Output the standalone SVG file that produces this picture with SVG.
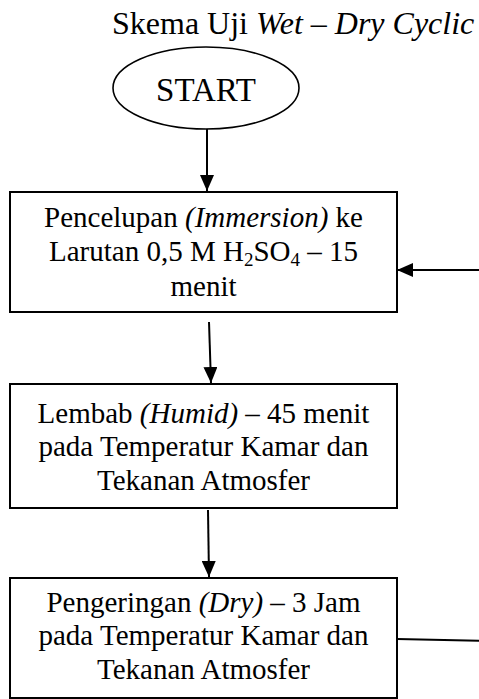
<svg xmlns="http://www.w3.org/2000/svg" width="479" height="699" viewBox="0 0 479 699">
<style>
  text { font-family: "Liberation Serif", "Times New Roman", serif; fill: #000; }
  .title { font-size: 32px; }
  .start { font-size: 33px; text-anchor: middle; }
  .lbl { font-size: 29px; text-anchor: middle; }
  .box { fill: #fff; stroke: #000; stroke-width: 2; }
  .oval { fill: #fff; stroke: #000; stroke-width: 1.6; }
  .conn { fill: none; stroke: #000; stroke-width: 2; }
  .it { font-style: italic; }
</style>
<defs>
  <marker id="arrow" markerUnits="userSpaceOnUse" markerWidth="16" markerHeight="14" refX="16" refY="7" orient="auto">
    <path d="M0,0 L16,7 L0,14 z" fill="#000"/>
  </marker>
</defs>
<rect width="479" height="699" fill="#fff"/>
<text class="title" x="112" y="34">Skema Uji <tspan class="it">Wet – Dry Cyclic</tspan></text>

<g id="connectors">
  <line class="conn" x1="207" y1="129" x2="207" y2="191" marker-end="url(#arrow)"/>
  <line class="conn" x1="209" y1="322" x2="211" y2="383" marker-end="url(#arrow)"/>
  <line class="conn" x1="208" y1="510" x2="209" y2="577" marker-end="url(#arrow)"/>
  <path class="conn" d="M397,639 L486,641 L486,270 L397,270" marker-end="url(#arrow)"/>
</g>

<g id="start">
  <ellipse class="oval" cx="206" cy="88" rx="93" ry="41"/>
  <text class="start" x="206" y="101">START</text>
</g>

<g id="immersion">
  <rect class="box" x="10" y="192" width="387" height="120"/>
  <text class="lbl" x="203.5" y="227">Pencelupan <tspan class="it">(Immersion)</tspan> ke</text>
  <text class="lbl" x="203.5" y="261">Larutan 0,5 M H<tspan font-size="19" dy="5">2</tspan><tspan dy="-5">SO</tspan><tspan font-size="19" dy="5">4</tspan><tspan dy="-5"> – 15</tspan></text>
  <text class="lbl" x="203.5" y="296">menit</text>
</g>

<g id="humid">
  <rect class="box" x="10" y="384" width="387" height="124"/>
  <text class="lbl" x="203.5" y="423">Lembab <tspan class="it">(Humid)</tspan> – 45 menit</text>
  <text class="lbl" x="203.5" y="456">pada Temperatur Kamar dan</text>
  <text class="lbl" x="203.5" y="490">Tekanan Atmosfer</text>
</g>

<g id="dry">
  <rect class="box" x="10" y="578" width="387" height="120"/>
  <text class="lbl" x="203.5" y="612">Pengeringan <tspan class="it">(Dry)</tspan> – 3 Jam</text>
  <text class="lbl" x="203.5" y="645">pada Temperatur Kamar dan</text>
  <text class="lbl" x="203.5" y="679">Tekanan Atmosfer</text>
</g>
</svg>
